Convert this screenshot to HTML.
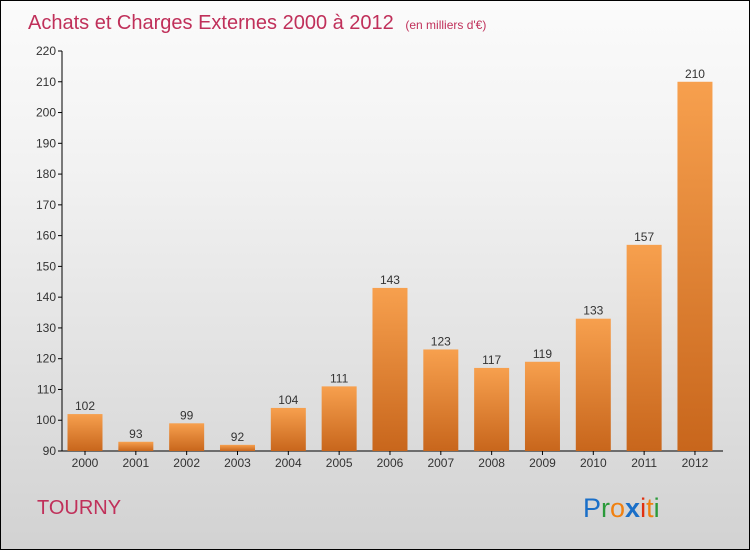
<!DOCTYPE html>
<html><head><meta charset="utf-8"><style>
body{margin:0}
#c{position:relative;width:748px;height:548px;border:1px solid #000;background:linear-gradient(#fbfbfb,#f2f2f2 30%,#d2d2d2);font-family:"Liberation Sans",sans-serif;overflow:hidden}
</style></head><body>
<div id="c">
<svg width="748" height="548" style="position:absolute;left:0;top:0" id="svg">
<defs><linearGradient id="bg" x1="0" y1="0" x2="0" y2="1"><stop offset="0" stop-color="#f7a04e"/><stop offset="1" stop-color="#c8661c"/></linearGradient></defs>
<text x="27" y="28" font-size="20" fill="#c0305a">Achats et Charges Externes 2000 à 2012 <tspan font-size="12" dx="6">(en milliers d'€)</tspan></text>
<text x="36" y="513" font-size="20" fill="#c0305a">TOURNY</text>
<text x="582" y="516" font-size="27"><tspan fill="#1a6fc8">P</tspan><tspan fill="#2a9a3a">r</tspan><tspan fill="#f08010">o</tspan><tspan fill="#1a6fc8" font-weight="bold">x</tspan><tspan fill="#e03010">i</tspan><tspan fill="#f08010">t</tspan><tspan fill="#2a9a3a">i</tspan></text>
<g id="g"></g>
</svg>
</div>
<script>
const categories=["2000","2001","2002","2003","2004","2005","2006","2007","2008","2009","2010","2011","2012"];
const values=[102,93,99,92,104,111,143,123,117,119,133,157,210];
const yTicks=[90,100,110,120,130,140,150,160,170,180,190,200,210,220];
const NS="http://www.w3.org/2000/svg";
const g=document.getElementById('g');
const y=v=>450-(v-90)*400/130;
const x=i=>84+i*50.83;
function mk(t,a){const e=document.createElementNS(NS,t);for(const k in a)e.setAttribute(k,a[k]);g.appendChild(e);return e;}
let ax=mk('line',{x1:61,x2:61,y1:y(220),y2:450,stroke:'#000'});


let bx=mk('line',{x1:61,x2:722,y1:450,y2:450,stroke:'#000'});


yTicks.forEach(v=>{
 let l=mk('line',{x1:57,x2:61,y1:y(v),y2:y(v),stroke:'#000'});
 
 
 let t=mk('text',{x:55,y:y(v)+4,'font-size':12,fill:'#333','text-anchor':'end'});
 t.textContent=v;
 
 
});
categories.forEach((c,i)=>{
 let r=mk('rect',{x:x(i)-17.5,y:y(values[i]),width:35,height:450-y(values[i]),fill:'url(#bg)'});
 
 
 let v=mk('text',{x:x(i),y:y(values[i])-4,'font-size':12,fill:'#333','text-anchor':'middle'});
 v.textContent=values[i];
 
 
 let tk=mk('line',{x1:x(i),x2:x(i),y1:450,y2:454,stroke:'#000'});
 
 
 let t=mk('text',{x:x(i),y:466,'font-size':12,fill:'#333','text-anchor':'middle'});
 t.textContent=c;
 
 
});
</script>
</body></html>
